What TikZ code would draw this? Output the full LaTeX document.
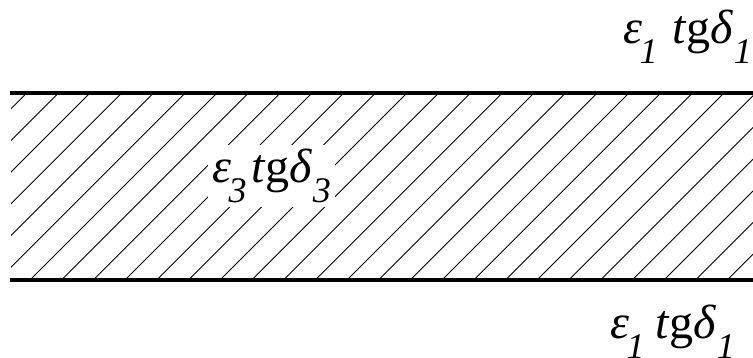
\documentclass[tikz,border=0pt]{standalone}
\usepackage{fontspec}
\setmainfont{Liberation Serif}[ItalicFont={Liberation Serif Italic}]
\newfontfamily\timesit{Liberation Serif Italic}
\newfontfamily\timesup{Liberation Serif}
\newcommand{\epssub}[1]{\raisebox{-20pt}{\fontsize{36}{40}\selectfont #1}}
\newcommand{\epslabel}[3]{{\timesit\fontsize{48}{52}\selectfont ε\kern-0.05em\epssub{#1}\kern#3 t{\timesup g}δ\kern0.03em\epssub{#2}}}
\begin{document}
\begin{tikzpicture}[x=1pt,y=1pt,
  thickline/.style={line width=4pt},
  hatchline/.style={line width=0.9pt},
  lbl/.style={anchor=base west, inner sep=0pt}]
\useasboundingbox (0,0) rectangle (753,358);
\begin{scope}
  \clip (11,78) rectangle (753,265);
  \foreach \k in {-2,...,30} {
    \draw[hatchline] ({26.7+31.7*\k},265) -- ++(-190,-190);
  }
\end{scope}
\node[lbl, fill=white, inner sep=4pt] (eps3) at (208,175) {\epslabel{3}{3}{5pt}};
\coordinate (tl) at (10,265);
\coordinate (tr) at (753,265);
\coordinate (bl) at (10,78);
\coordinate (br) at (753,78);
\draw[thickline] (tl) -- (tr);
\draw[thickline] (bl) -- (br);
\node[lbl] (eps1top) at (623,314) {\epslabel{1}{1}{15pt}};
\node[lbl] (eps1bot) at (610,19) {\epslabel{1}{1}{11pt}};
\end{tikzpicture}
\end{document}
